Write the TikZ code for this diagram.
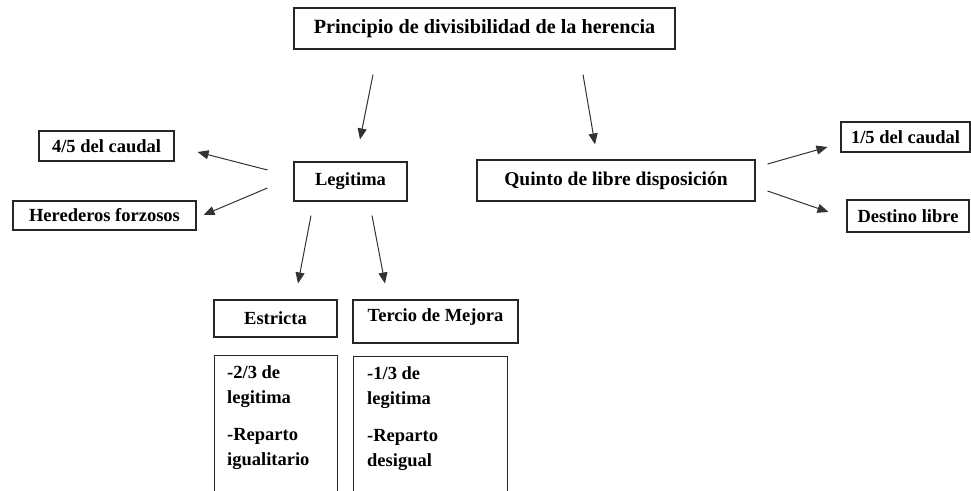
\documentclass[tikz,border=0pt]{standalone}
\usepackage{fontspec}
\setmainfont{Liberation Serif}
\usetikzlibrary{arrows.meta,calc}
\tikzset{
  box/.style={draw=black!85, line width=1.1pt, inner sep=0pt, font=\fontsize{18.5}{22}\selectfont\bfseries},
  bigbox/.style={box, font=\fontsize{20.2}{24}\selectfont\bfseries},
  arr/.style={draw=black!80, line width=1pt, -{Triangle[length=11pt,width=9pt]}},
  listtxt/.style={inner sep=0pt, anchor=north west, align=left, font=\fontsize{18.5}{25}\selectfont\bfseries}
}
\begin{document}
\begin{tikzpicture}[x=1pt,y=-1pt]
\useasboundingbox (0,0) rectangle (971,490);
\node[bigbox, minimum width=381, minimum height=41] (top) at (484.5,28.5) {Principio de divisibilidad de la herencia};
\node[box, minimum width=113, minimum height=39] (legit) at (350.5,181.5) {Legitima\hspace{8pt}};
\node[box, minimum width=135, minimum height=30] (c45) at (106.5,146) {4/5 del caudal};
\node[box, minimum width=183, minimum height=29] (her) at (104.5,215.5) {Herederos forzosos};
\node[box, minimum width=278, minimum height=41] (quinto) at (616,180.5) {\fontsize{19.5}{22}\selectfont Quinto de libre disposición\hspace{16pt}};
\node[box, minimum width=129, minimum height=30] (c15) at (905.5,137) {1/5 del caudal};
\node[box, minimum width=122, minimum height=32] (dest) at (908,216) {Destino libre};
\node[box, minimum width=123, minimum height=37] (estr) at (275.5,318.5) {Estricta};
\node[box, minimum width=165, minimum height=43, text depth=12pt] (terc) at (435.5,321.5) {Tercio de Mejora};
\node[box, anchor=north west, minimum width=123, minimum height=160] (elist) at (214,355) {};
\node[box, anchor=north west, minimum width=154, minimum height=160] (tlist) at (353,356) {};
\node[listtxt] (elistt) at ($(elist.north west)+(13,10)$) {-2/3 de\\legitima\\[12pt]-Reparto\\igualitario};
\node[listtxt] (tlistt) at ($(tlist.north west)+(14,10)$) {-1/3 de\\legitima\\[12pt]-Reparto\\desigual};
\draw[arr] ($(top.south)+(-111.5,25)$) -- ($(legit.north)+(9.5,-22)$);
\draw[arr] ($(top.south)+(98.5,25)$) -- ($(quinto.north)+(-21,-15)$);
\draw[arr] ($(legit.west)+(-26,-11.5)$) -- ($(c45.east)+(23,6)$);
\draw[arr] ($(legit.west)+(-26,6.5)$) -- ($(her.east)+(7,-0.5)$);
\draw[arr] ($(legit.south)+(-39.5,14)$) -- ($(estr.north)+(22.5,-16)$);
\draw[arr] ($(legit.south)+(21.5,14)$) -- ($(terc.north)+(-50.5,-16)$);
\draw[arr] ($(quinto.east)+(12,-16.5)$) -- ($(c15.west)+(-13,10)$);
\draw[arr] ($(quinto.east)+(12,10.5)$) -- ($(dest.west)+(-18,-4)$);
\end{tikzpicture}
\end{document}
